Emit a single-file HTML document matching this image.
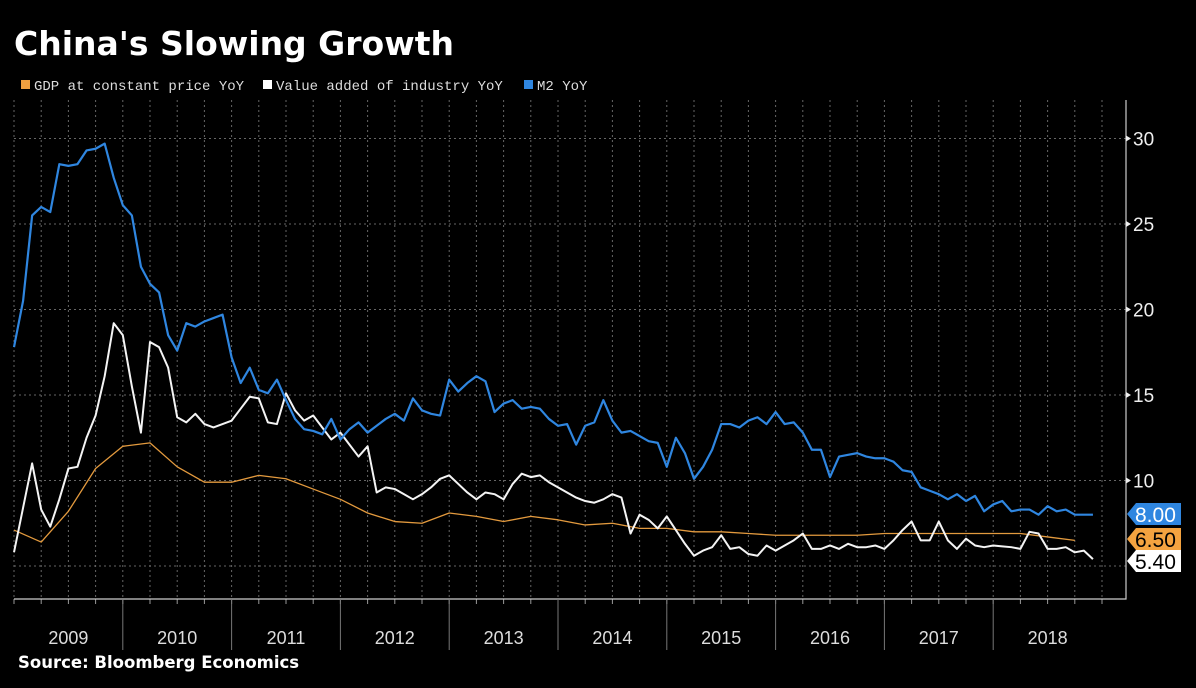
<!DOCTYPE html>
<html><head><meta charset="utf-8"><style>
html,body{margin:0;padding:0;background:#000;width:1196px;height:688px;overflow:hidden;font-family:"Liberation Sans",sans-serif}
svg{display:block}
</style></head><body>
<svg id="chart" width="1196" height="688" xmlns="http://www.w3.org/2000/svg">
<text x="14" y="55" fill="#fff" font-size="33" font-weight="bold" font-family="DejaVu Sans, sans-serif">China's Slowing Growth</text>
<g font-size="14" fill="#ddd" font-family="Liberation Mono, monospace">
<rect x="21" y="80" width="9" height="9" fill="#f0a040"/>
<text x="34" y="90">GDP at constant price YoY</text>
<rect x="263" y="80" width="9" height="9" fill="#fff"/>
<text x="276" y="90">Value added of industry YoY</text>
<rect x="524" y="80" width="9" height="9" fill="#2f86e0"/>
<text x="537" y="90">M2 YoY</text>
</g>
<g id="grid"></g><g id="axes"></g><g id="series"></g><g id="tags"></g>
<text x="18" y="668" fill="#fff" font-size="16.5" font-weight="bold" font-family="DejaVu Sans, sans-serif">Source: Bloomberg Economics</text>
</svg>
<script>
const years = ["2009","2010","2011","2012","2013","2014","2015","2016","2017","2018"];
const yTicks = [10,15,20,25,30];
const m2 = [17.8,20.5,25.5,26.0,25.7,28.5,28.4,28.5,29.3,29.4,29.7,27.7,
26.1,25.5,22.5,21.5,21.0,18.5,17.6,19.2,19.0,19.3,19.5,19.7,
17.2,15.7,16.6,15.3,15.1,15.9,14.7,13.6,13.0,12.9,12.7,13.6,
12.4,13.0,13.4,12.8,13.2,13.6,13.9,13.5,14.8,14.1,13.9,13.8,
15.9,15.2,15.7,16.1,15.8,14.0,14.5,14.7,14.2,14.3,14.2,13.6,
13.2,13.3,12.1,13.2,13.4,14.7,13.5,12.8,12.9,12.6,12.3,12.2,
10.8,12.5,11.6,10.1,10.8,11.8,13.3,13.3,13.1,13.5,13.7,13.3,
14.0,13.3,13.4,12.8,11.8,11.8,10.2,11.4,11.5,11.6,11.4,11.3,
11.3,11.1,10.6,10.5,9.6,9.4,9.2,8.9,9.2,8.8,9.1,8.2,
8.6,8.8,8.2,8.3,8.3,8.0,8.5,8.2,8.3,8.0,8.0,8.0];
const industry = [5.8,8.4,11.0,8.3,7.3,8.9,10.7,10.8,12.5,13.8,16.1,19.2,
18.5,15.5,12.8,18.1,17.8,16.6,13.7,13.4,13.9,13.3,13.1,13.3,
13.5,14.2,14.9,14.8,13.4,13.3,15.1,14.1,13.5,13.8,13.1,12.4,
12.8,12.1,11.4,12.0,9.3,9.6,9.5,9.2,8.9,9.2,9.6,10.1,
10.3,9.8,9.3,8.9,9.3,9.2,8.9,9.8,10.4,10.2,10.3,9.9,
9.6,9.3,9.0,8.8,8.7,8.9,9.2,9.0,6.9,8.0,7.7,7.2,
7.9,7.1,6.3,5.6,5.9,6.1,6.8,6.0,6.1,5.7,5.6,6.2,
5.9,6.2,6.5,6.9,6.0,6.0,6.2,6.0,6.3,6.1,6.1,6.2,
6.0,6.5,7.1,7.6,6.5,6.5,7.6,6.5,6.0,6.6,6.2,6.1,
6.2,6.15,6.1,6.0,7.0,6.9,6.0,6.0,6.1,5.8,5.9,5.4];
const gdpIdx = [0,3,6,9,12,15,18,21,24,27,30,33,36,39,42,45,48,51,54,57,60,63,66,69,72,75,78,81,84,87,90,93,96,99,102,105,108,111,114,117];
const gdp = [7.1,6.4,8.2,10.7,12.0,12.2,10.8,9.9,9.9,10.3,10.1,9.5,8.9,8.1,7.6,7.5,8.1,7.9,7.6,7.9,7.7,7.4,7.5,7.2,7.2,7.0,7.0,6.9,6.8,6.8,6.8,6.8,6.9,6.9,6.9,6.9,6.9,6.9,6.7,6.5];

const NS="http://www.w3.org/2000/svg";
const L=14,R=1126,T=100,B=599,MW=108.8/12;
const x=i=>L+i*MW;
const y=v=>566-(v-5)*17.1;
function mk(tag,attrs,parent){const e=document.createElementNS(NS,tag);for(const k in attrs)e.setAttribute(k,attrs[k]);document.getElementById(parent).appendChild(e);return e;}

[5].concat(yTicks).forEach(v=>{
  const g=mk('line',{x1:L,x2:R,y1:y(v),y2:y(v),stroke:'#666','stroke-dasharray':'2,3','stroke-width':1},'grid');
  
  
});
for(let q=0;q<=40;q++){
  const xx=L+q*27.2; if(xx>R)break;
  const g=mk('line',{x1:xx,x2:xx,y1:T,y2:B,stroke:'#666','stroke-dasharray':'2,3','stroke-width':1},'grid');
  
  
  const t=mk('line',{x1:xx,x2:xx,y1:B,y2:B+5,stroke:'#999'},'axes');
  
  
}
const ax=mk('path',{d:`M${L} ${B}H${R}V${T}`,stroke:'#ccc',fill:'none','stroke-width':1.2},'axes');


yTicks.forEach(v=>{
  const t=mk('text',{x:1133,y:y(v)+7,fill:'#eee','font-size':19},'axes');
  t.textContent=v;
  
  
  const m=mk('path',{d:`M${R} ${y(v)-3}L${R+5} ${y(v)}L${R} ${y(v)+3}Z`,fill:'#eee'},'axes');
  
  
});
years.forEach((yr,k)=>{
  const x0=L+k*108.8;
  if(k>0){const d=mk('line',{x1:x0,x2:x0,y1:B,y2:650,stroke:'#777'},'axes');
  
  }
  const t=mk('text',{x:x0+54.4,y:644,fill:'#ddd','font-size':18,'text-anchor':'middle'},'axes');
  t.textContent=yr;
  
  
});
function line(vals,idx,color,w,name){
  const p=mk('polyline',{points:vals.map((v,i)=>x(idx?idx[i]:i)+','+y(v)).join(' '),fill:'none',stroke:color,'stroke-width':w,'stroke-linejoin':'round'},'series');
  
  
}
line(gdp,gdpIdx,'#e39a3e',1.3,'gdp-line');
line(industry,null,'#f4f4f4',2,'industry-line');
line(m2,null,'#2f86e0',2.2,'m2-line');

function tag(val,bg,fg,yc,name){
  const g=mk('path',{d:`M1127 ${yc}L1136 ${yc-11}H1181V${yc+11}H1136Z`,fill:bg},'tags');
  
  
  const t=mk('text',{x:1135,y:yc+8,fill:fg,'font-size':21},'tags');
  t.textContent=val;
  
  
}
tag(industry[industry.length-1].toFixed(2),'#fff','#000',561,'industry-value-tag');
tag(gdp[gdp.length-1].toFixed(2),'#f4a340','#000',539,'gdp-value-tag');
tag(m2[m2.length-1].toFixed(2),'#2f86e0','#fff',514,'m2-value-tag');
</script>
</body></html>
